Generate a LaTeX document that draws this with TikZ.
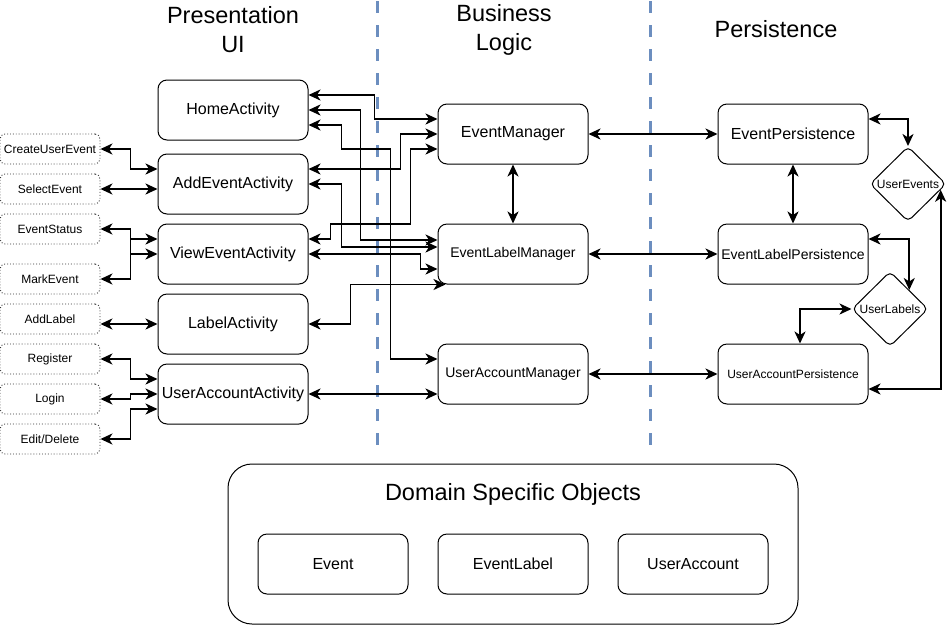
\documentclass[tikz,border=0pt]{standalone}
\usepackage{fontspec}
\setmainfont{Liberation Sans}
\usetikzlibrary{arrows.meta,shapes.geometric,calc}
\definecolor{sepblue}{HTML}{6C8EBF}
\newcommand\fsz[2]{\fontsize{#1}{#2}\selectfont}
\tikzset{
  box/.style={draw, line width=1pt, rounded corners=9pt, minimum width=150pt, minimum height=60pt, inner sep=0pt, font=\fsz{16}{19}},
  dbox/.style={draw=black!80, dotted, line width=0.9pt, rounded corners=5pt, minimum width=100pt, minimum height=30pt, inner sep=0pt, font=\fsz{12}{14}},
  store/.style={draw, line width=1pt, diamond, rounded corners=5pt, minimum width=76pt, minimum height=75pt, inner sep=0pt},
  heading/.style={align=center, font=\fsz{23.5}{29}},
  bi/.style={line width=1.9pt, {Stealth[length=12pt,width=11pt,inset=3.5pt]}-{Stealth[length=12pt,width=11pt,inset=3.5pt]}},
  sepline/.style={sepblue, line width=3pt, dash pattern=on 12pt off 12pt},
}
\begin{document}
\begin{tikzpicture}[x=1pt,y=-1pt]
\useasboundingbox (0,0) rectangle (951,625);
% separators
\draw[sepline] (377,1) -- (377,445);
\draw[sepline] (650,1) -- (650,445);
% headings
\node[heading] (tpres) at (233,30) {Presentation\\UI};
\node[heading] (tbus) at (504,30) {Business\\Logic};
\node[heading] (tper) at (776,29) {Persistence};
% presentation
\node[box] (home) at (233,110) {HomeActivity};
\node[box] (add) at (233,184) {AddEventActivity};
\node[box] (view) at (233,254) {ViewEventActivity};
\node[box] (label) at (233,324) {LabelActivity};
\node[box] (uaa) at (233,394) {UserAccountActivity};
% dotted
\node[dbox] (cue) at (50,149) {CreateUserEvent};
\node[dbox] (sel) at (50,189) {SelectEvent};
\node[dbox] (est) at (50,229) {EventStatus};
\node[dbox] (mark) at (50,279) {MarkEvent};
\node[dbox] (addl) at (50,319) {AddLabel};
\node[dbox] (reg) at (50,359) {Register};
\node[dbox] (login) at (50,399) {Login};
\node[dbox] (edit) at (50,439) {Edit/Delete};
% business
\node[box] (em) at (513,134) {EventManager};
\node[box, font=\fsz{14}{17}] (elm) at (513,254) {EventLabelManager};
\node[box, font=\fsz{14}{17}] (uam) at (513,374) {UserAccountManager};
% persistence
\node[box] (ep) at (793,134) {EventPersistence};
\node[box, font=\fsz{14}{17}] (elp) at (793,254) {EventLabelPersistence};
\node[box, font=\fsz{12}{14}] (uap) at (793,374) {UserAccountPersistence};
\node[store, label={[font=\fsz{12}{14}]center:UserEvents}] (ue) at (908,184) {};
\node[store, label={[font=\fsz{12}{14}]center:UserLabels}] (ul) at (890,309) {};
% domain
\node[draw, line width=1pt, rounded corners=24pt, minimum width=570pt, minimum height=160pt] (dso) at (513,544) {};
\node[heading] (dsot) at (513,494) {Domain Specific Objects};
\node[box] (ev) at (333,564) {Event};
\node[box] (evl) at (513,564) {EventLabel};
\node[box] (ua) at (693,564) {UserAccount};
% left connectors
\draw[bi] (cue.east) -- ++(30,0) |- ([yshift=15pt]add.west);
\draw[bi] (sel.east) -- ([yshift=-5pt]add.west);
\draw[bi] (est.east) -- ++(30,0) |- (view.west);
\draw[bi] (mark.east) -- ++(30,0) |- ([yshift=15pt]view.west);
\draw[bi] (addl.east |- label.west) -- (label.west);
\draw[bi] (reg.east) -- ++(30,0) |- ([yshift=15pt]uaa.west);
\draw[bi] (login.east) -- ++(30,0) |- (uaa.west);
\draw[bi] (edit.east) -- ++(30,0) |- ([yshift=-15pt]uaa.west);
% presentation - business
\draw[bi] ([yshift=15pt]home.east) -- ++(66,0) |- ([yshift=15pt]em.west);
\draw[bi] (home.east) -- ++(52,0) |- ([yshift=14pt]elm.west);
\draw[bi] ([yshift=-15pt]home.east) -- ++(33,0) -- ++(0,24) -- ++(49,0) |- ([yshift=15pt]uam.west);
\draw[bi] ([yshift=15pt]add.east) -- ++(92,0) |- (em.west);
\draw[bi] ([yshift=15pt]view.east) -- ++(22,0) -- ++(0,-15) -- ++(80,0) |- ([yshift=-15pt]em.west);
\draw[bi] (add.east) -- ++(33,0) |- ([yshift=7pt]elm.west);
\draw[bi] (view.east) -- ++(112,0) |- ([yshift=-15pt]elm.west);
\draw[bi] (label.east) -- ++(42,0) |- ([xshift=8pt]elm.south west);
\draw[bi] (uaa.east) -- ([yshift=-20pt]uam.west);
% business internal and to persistence
\draw[bi] (em.south) -- (elm.north);
\draw[bi] (em.east) -- (ep.west);
\draw[bi] (elm.east) -- (elp.west);
\draw[bi] (uam.east) -- (uap.west);
\draw[bi] (ep.south) -- (elp.north);
% persistence to stores
\draw[bi] ([yshift=15pt]ep.east) -| (ue.north);
\draw[bi] ([yshift=15pt]elp.east) -| (ul.north east);
\draw[bi] ([yshift=-15pt]uap.east) -| (ue.-10);
\draw[bi] (ul.west) -| ([xshift=7pt]uap.north);
\end{tikzpicture}
\end{document}
